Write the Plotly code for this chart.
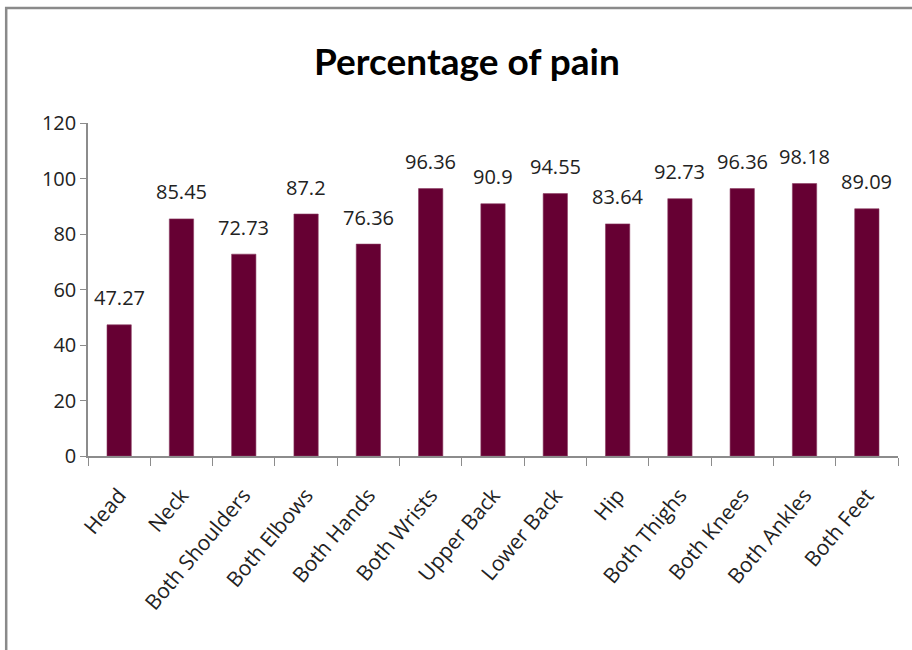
import plotly.graph_objects as go

categories = ["Head", "Neck", "Both Shoulders", "Both Elbows", "Both Hands", "Both Wrists",
              "Upper Back", "Lower Back", "Hip", "Both Thighs", "Both Knees", "Both Ankles", "Both Feet"]
values = [47.27, 85.45, 72.73, 87.2, 76.36, 96.36, 90.9, 94.55, 83.64, 92.73, 96.36, 98.18, 89.09]
labels = ["47.27", "85.45", "72.73", "87.2", "76.36", "96.36", "90.9", "94.55", "83.64", "92.73", "96.36", "98.18", "89.09"]

FONT = "Open Sans"

fig = go.Figure(go.Bar(
    x=categories, y=values,
    marker=dict(color="#660033", line=dict(color="#8a3a62", width=0.6)),
    hoverinfo="x+y",
))

for c, v, t in zip(categories, values, labels):
    fig.add_annotation(x=c, y=v, text=t, showarrow=False, xanchor="center", yanchor="middle",
                       yshift=27, font=dict(family=FONT, size=20, color="#222222"))

fig.update_layout(
    width=912, height=650,
    margin=dict(l=88, r=14, t=123, b=194),
    paper_bgcolor="white", plot_bgcolor="white",
    bargap=0.61,
    showlegend=False,
    title=dict(text="<b>Percentage of pain</b>", x=0.512, xanchor="center", y=0.905, yanchor="middle",
               font=dict(family="Lato", size=37, color="black")),
    font=dict(family=FONT, color="#222222"),
    xaxis=dict(showline=True, linecolor="#8c8c8c", linewidth=1.5, ticks="outside", tickson="boundaries",
               ticklen=8, tickcolor="#8c8c8c", tickangle=-50, tickfont=dict(family=FONT, size=21),
               ticklabelstandoff=17,
               range=[-0.5, 12.5], showgrid=False),
    yaxis=dict(range=[0, 120], dtick=20, showline=True, linecolor="#8c8c8c", linewidth=1.5, ticks="outside",
               ticklen=6, tickcolor="#8c8c8c", tickfont=dict(family=FONT, size=20), showgrid=False,
               zeroline=False),
    shapes=[dict(type="path", xref="paper", yref="paper",
                 path="M -0.101,-0.7 L -0.101,1.345 L 1.05,1.345",
                 line=dict(color="#8a8a8a", width=2.5))],
)

fig.write_html("out.html")
